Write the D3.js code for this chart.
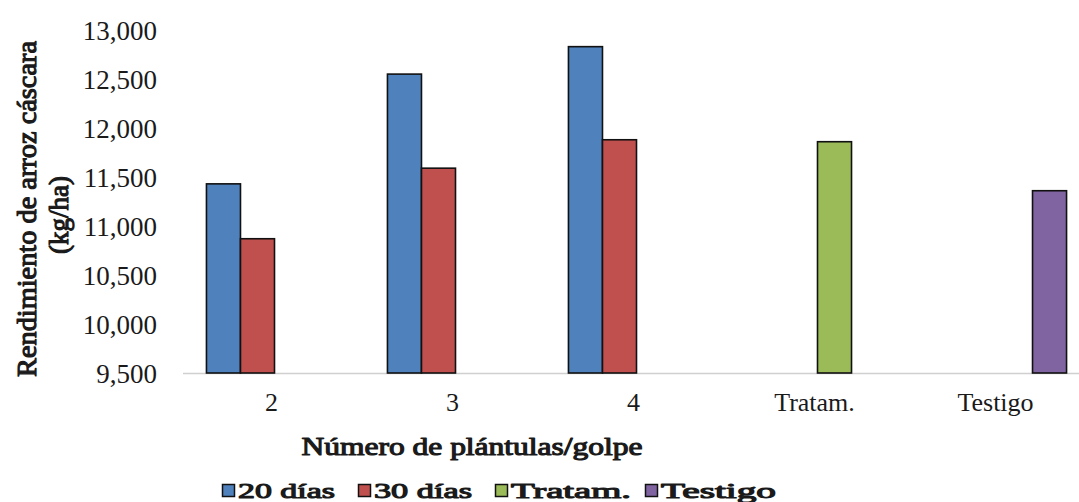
<!DOCTYPE html>
<html>
<head>
<meta charset="utf-8">
<script src="https://cdn.jsdelivr.net/npm/d3@7"></script>
<style>
  body { margin: 0; background: #fff; }
  text { font-family: "Liberation Serif", "Times New Roman", serif; fill: #1a1a1a; }
  /* no bold serif face installed: thicken the regular one */
  text.bold { stroke: #1a1a1a; stroke-width: 1.1px; stroke-linejoin: round; }
</style>
</head>
<body>
<div id="chart"></div>
<script>
// categories on the x axis
const categories = ["2", "3", "4", "Tratam.", "Testigo"];
// series (legend order)
const seriesNames = ["20 días", "30 días", "Tratam.", "Testigo"];
const seriesColors = ["#4f81bd", "#c0504d", "#9bbb59", "#8064a2"];
// values per series, one per category (null = no bar)
const dias20 = [11430, 12550, 12830, null, null];
const dias30 = [10870, 11590, 11880, null, null];
const tratam = [null, null, null, 11860, null];
const testigo = [null, null, null, null, 11360];
const yTicks = [9500, 10000, 10500, 11000, 11500, 12000, 12500, 13000];

const seriesValues = [dias20, dias30, tratam, testigo];

const W = 1079, H = 502;
const margin = { top: 30, right: -10, bottom: 129, left: 184 };

const svg = d3.select("#chart")
    .append("svg")
    .attr("width", W)
    .attr("height", H);

const x0 = d3.scaleBand()
    .domain(categories)
    .range([margin.left, W - margin.right])
    .padding(0);

const x1 = d3.scaleBand()
    .domain(seriesNames)
    .range([0, x0.bandwidth()])
    .paddingInner(0)
    .paddingOuter(0.66);

const y = d3.scaleLinear()
    .domain([9500, 13000])
    .range([H - margin.bottom, margin.top]);

// flatten into bar records
const bars = [];
seriesNames.forEach((s, i) => {
    seriesValues[i].forEach((v, j) => {
        if (v !== null) bars.push({ series: s, cat: categories[j], value: v, color: seriesColors[i] });
    });
});

// baseline
svg.append("line")
    .attr("x1", margin.left - 1)
    .attr("x2", W)
    .attr("y1", y(9500) + 0.5)
    .attr("y2", y(9500) + 0.5)
    .attr("stroke", "#d0d0d0")
    .attr("stroke-width", 1.5);

svg.selectAll("rect.bar")
    .data(bars)
    .enter()
    .append("rect")
    .attr("class", "bar")
    .attr("x", d => x0(d.cat) + x1(d.series))
    .attr("y", d => y(d.value))
    .attr("width", x1.bandwidth())
    .attr("height", d => y(9500) - y(d.value))
    .attr("fill", d => d.color)
    .attr("stroke", "#111")
    .attr("stroke-width", 1.6);

// y axis (labels only)
const yAxis = d3.axisLeft(y)
    .tickValues(yTicks)
    .tickFormat(d3.format(","))
    .tickSize(0)
    .tickPadding(0);

const gy = svg.append("g")
    .attr("transform", `translate(157,0)`)
    .call(yAxis);
gy.select(".domain").remove();
gy.selectAll("text")
    .attr("font-size", 27)
    .attr("dy", "0.34em")
    .style("fill", "#1a1a1a");

// x axis (labels only)
const xAxis = d3.axisBottom(x0).tickSize(0).tickPadding(0);
const gx = svg.append("g")
    .attr("transform", `translate(-3,${y(9500)})`)
    .call(xAxis);
gx.select(".domain").remove();
gx.selectAll("text")
    .attr("font-size", 26)
    .attr("dy", "1.45em")
    .style("fill", "#1a1a1a");

// axis titles
svg.append("text")
    .attr("class", "bold")
    .attr("transform", "translate(36,209) rotate(-90)")
    .attr("text-anchor", "middle")
    .attr("font-size", 27)
    .attr("textLength", 336)
    .attr("lengthAdjust", "spacingAndGlyphs")
    .text("Rendimiento de arroz cáscara");

svg.append("text")
    .attr("class", "bold")
    .attr("transform", "translate(68,215) rotate(-90)")
    .attr("text-anchor", "middle")
    .attr("font-size", 27)
    .text("(kg/ha)");

svg.append("text")
    .attr("class", "bold")
    .attr("x", 472)
    .attr("y", 455)
    .attr("text-anchor", "middle")
    .attr("font-size", 25)
    .attr("textLength", 341)
    .attr("lengthAdjust", "spacingAndGlyphs")
    .text("Número de plántulas/golpe");

// legend
const legendX = [222, 358, 495, 645];
const legendW = [97, 98, 120, 115];
const legend = svg.selectAll("g.legend")
    .data(seriesNames)
    .enter()
    .append("g")
    .attr("class", "legend")
    .attr("transform", (d, i) => `translate(${legendX[i]},484)`);

legend.append("rect")
    .attr("x", 0.5)
    .attr("y", 0.5)
    .attr("width", 12)
    .attr("height", 12)
    .attr("fill", (d, i) => seriesColors[i])
    .attr("stroke", "#111")
    .attr("stroke-width", 1.5);

legend.append("text")
    .attr("class", "bold")
    .attr("x", 16)
    .attr("y", 13.5)
    .attr("font-size", 22)
    .attr("textLength", (d, i) => legendW[i])
    .attr("lengthAdjust", "spacingAndGlyphs")
    .text(d => d);
</script>
</body>
</html>
